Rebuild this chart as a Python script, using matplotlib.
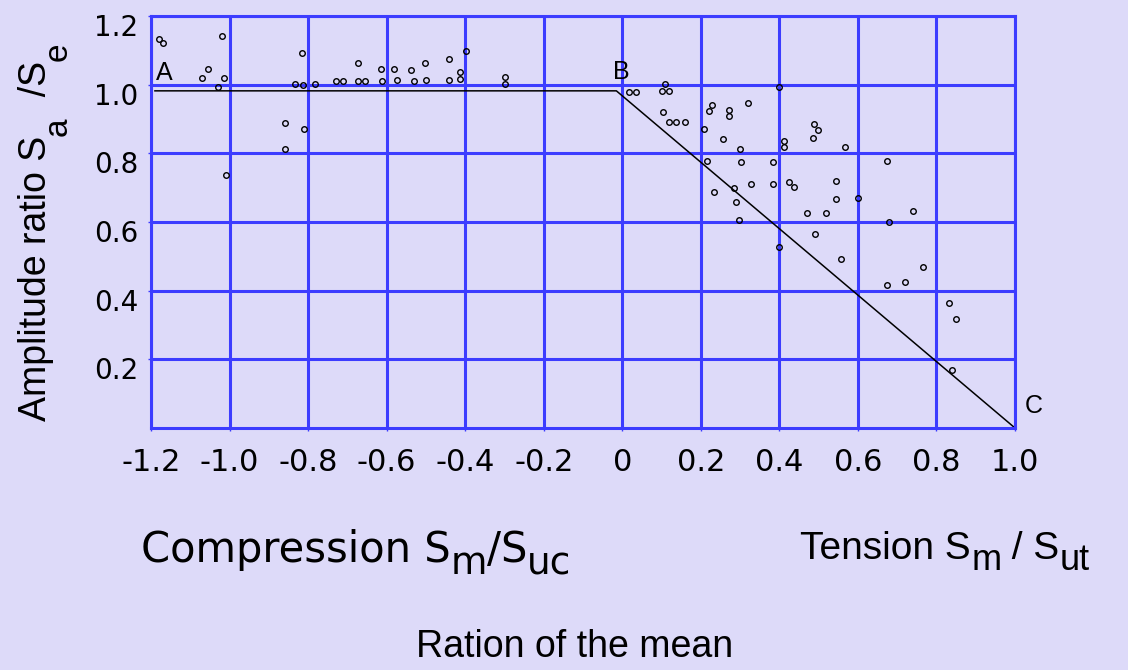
import matplotlib
matplotlib.use("Agg")
import matplotlib.pyplot as plt
import matplotlib.transforms as mtransforms

# measured points, compression side (Sm/Suc < 0)
comp_x = [-1.18, -1.17, -1.02, -1.055, -1.07, -1.015, -1.03, -1.01, -0.815, -0.833,
          -0.812, -0.783, -0.858, -0.811, -0.858, -0.73, -0.71, -0.673, -0.673, -0.656,
          -0.614, -0.611, -0.581, -0.573, -0.538, -0.531, -0.503, -0.499, -0.442, -0.442,
          -0.412, -0.412, -0.399, -0.299, -0.299]
comp_y = [1.132, 1.122, 1.141, 1.045, 1.018, 1.018, 0.994, 0.737, 1.091, 1.001,
          0.999, 1.001, 0.887, 0.870, 0.813, 1.012, 1.012, 1.063, 1.012, 1.012,
          1.045, 1.011, 1.045, 1.013, 1.044, 1.012, 1.062, 1.014, 1.075, 1.015,
          1.037, 1.017, 1.098, 1.022, 1.001]

# measured points, tension side (Sm/Sut > 0)
tens_x = [0.016, 0.035, 0.101, 0.120, 0.108, 0.400, 0.229, 0.221, 0.272, 0.272,
          0.321, 0.104, 0.118, 0.138, 0.159, 0.209, 0.256, 0.300, 0.412, 0.412,
          0.488, 0.498, 0.485, 0.566, 0.216, 0.303, 0.385, 0.673, 0.329, 0.385,
          0.425, 0.436, 0.285, 0.233, 0.290, 0.543, 0.543, 0.601, 0.470, 0.518,
          0.298, 0.678, 0.490, 0.400, 0.557, 0.740, 0.766, 0.674, 0.721, 0.833,
          0.851, 0.840]
tens_y = [0.978, 0.978, 0.982, 0.982, 1.001, 0.994, 0.941, 0.924, 0.926, 0.909,
          0.947, 0.919, 0.892, 0.892, 0.892, 0.870, 0.843, 0.813, 0.836, 0.818,
          0.885, 0.868, 0.846, 0.819, 0.777, 0.775, 0.774, 0.779, 0.712, 0.711,
          0.717, 0.701, 0.698, 0.688, 0.658, 0.718, 0.666, 0.669, 0.625, 0.625,
          0.606, 0.599, 0.566, 0.527, 0.491, 0.633, 0.469, 0.416, 0.424, 0.363,
          0.318, 0.168]

# design line A-B-C
line_x = [-1.19, -0.015, 1.0]
line_y = [0.982, 0.982, 0.0]
corner_labels = ["A", "B", "C"]
corner_pos = [(-1.188, 1.013), (-0.023, 1.016), (1.025, 0.044)]

x_ticks = [-1.2, -1.0, -0.8, -0.6, -0.4, -0.2, 0.0, 0.2, 0.4, 0.6, 0.8, 1.0]
x_ticklabels = ["-1.2", "-1.0", "-0.8", "-0.6", "-0.4", "-0.2", "0", "0.2", "0.4", "0.6", "0.8", "1.0"]
y_ticks = [0.2, 0.4, 0.6, 0.8, 1.0, 1.2]
y_ticklabels = ["0.2", "0.4", "0.6", "0.8", "1.0", "1.2"]

# label pieces: (text, fontsize, drop below baseline in points)
ylabel_parts = [("Amplitude ratio S", 27, 0), ("a", 24, 14), ("  /S", 27, 0), ("e", 24, 14)]
comp_parts = [("Compression S", 30, 0), ("m", 27, 8), ("/S", 30, 0), ("uc", 27, 8)]
tens_parts = [("Tension S", 28, 0), ("m", 26, 8), (" / S", 28, 0), ("ut", 26, 8)]

BG = "#dddaf9"
BLUE = "#3c3cff"
W, H = 1128, 670

fig = plt.figure(figsize=(W / 100, H / 100), dpi=100, facecolor=BG)
ax = fig.add_axes([151 / W, 1 - 428 / H, 864 / W, 412 / H], facecolor=BG)

ax.set_xlim(-1.2, 1.0)
ax.set_ylim(0, 1.2)

# blue grid, drawn as plain lines
for xv in x_ticks:
    ax.axvline(xv, color=BLUE, lw=2.2, zorder=1)
for yv in y_ticks:
    ax.axhline(yv, color=BLUE, lw=2.2, zorder=1)
for sp in ax.spines.values():
    sp.set_color(BLUE)
    sp.set_linewidth(2.2)

ax.plot(line_x, line_y, color="black", lw=1.1, zorder=2)
ax.plot(comp_x, comp_y, "o", ms=4, mfc="none", mec="black", mew=1.0, zorder=3)
ax.plot(tens_x, tens_y, "o", ms=4, mfc="none", mec="black", mew=1.0, zorder=3)

for lab, (lx, ly) in zip(corner_labels, corner_pos):
    ax.text(lx, ly, lab, fontsize=18, family="Liberation Sans", ha="left",
            va="baseline", clip_on=False)

ax.set_xticks(x_ticks)
ax.set_xticklabels(x_ticklabels, fontsize=22, family="DejaVu Sans")
ax.set_yticks(y_ticks)
ax.set_yticklabels(y_ticklabels, fontsize=20, family="DejaVu Sans")
ax.tick_params(axis="x", length=2.2, width=1, color=BLUE, pad=12)
ax.tick_params(axis="y", length=2.2, width=1, color=BLUE, pad=7)

# y tick labels sit a little below their grid lines
shift = mtransforms.ScaledTranslation(0, -9 / 100, fig.dpi_scale_trans)
for lbl in ax.get_yticklabels():
    lbl.set_transform(lbl.get_transform() + shift)


def chain_text(parts, x, y, family, rotation=0):
    """Write text pieces one after another, subscripts dropped below the line."""
    s, fs, _ = parts[0]
    if rotation:
        first = fig.text(x, y, s, fontsize=fs, family=family, rotation=90,
                         ha="right", va="bottom")
    else:
        first = fig.text(x, y, s, fontsize=fs, family=family, ha="left",
                         va="baseline")
    pieces = [first]
    prev_drop = 0
    for s, fs, drop in parts[1:]:
        d = drop - prev_drop
        if rotation:
            t = ax.annotate(s, xy=(1, 1), xycoords=pieces[-1], xytext=(d, 0),
                            textcoords="offset points", fontsize=fs, family=family,
                            rotation=90, ha="right", va="bottom")
        else:
            t = ax.annotate(s, xy=(1, 0), xycoords=pieces[-1], xytext=(0, -d),
                            textcoords="offset points", fontsize=fs, family=family,
                            ha="left", va="bottom")
        pieces.append(t)
        prev_drop = drop
    return pieces


ylab = chain_text(ylabel_parts, 54 / W, 0.3, "Liberation Sans", rotation=90)
comp = chain_text(comp_parts, 0.1, 1 - 562 / H, "DejaVu Sans")
tens = chain_text(tens_parts, 0.7, 1 - 559 / H, "Liberation Sans")
fig.text(575 / W, 1 - 657 / H, "Ration of the mean",
         fontsize=27, family="Liberation Sans", ha="center", va="baseline")

# centre each chained label on its spot in the slide
fig.canvas.draw()
renderer = fig.canvas.get_renderer()
for pieces, cx, cy in [(comp, 356, None), (tens, 945, None), (ylab, None, 232)]:
    box = mtransforms.Bbox.union([p.get_window_extent(renderer) for p in pieces])
    px, py = pieces[0].get_position()
    if cx is not None:
        px += (cx - (box.x0 + box.x1) / 2) / W
    if cy is not None:
        py += ((H - cy) - (box.y0 + box.y1) / 2) / H
    pieces[0].set_position((px, py))

fig.savefig("out.png", dpi=100, facecolor=BG)
plt.close(fig)
